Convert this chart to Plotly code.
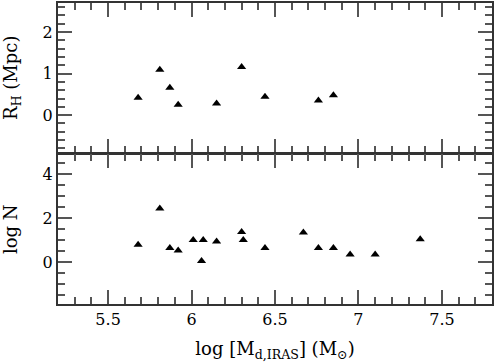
import plotly.graph_objects as go
from plotly.subplots import make_subplots

# top panel: R_H vs log M_d
logm_top = [5.68, 5.81, 5.87, 5.92, 6.15, 6.30, 6.44, 6.76, 6.85]
r_h = [0.42, 1.09, 0.66, 0.25, 0.28, 1.16, 0.44, 0.35, 0.48]

# bottom panel: log N vs log M_d
logm_bot = [5.68, 5.81, 5.87, 5.92, 6.01, 6.06, 6.07, 6.15, 6.30, 6.31,
            6.44, 6.67, 6.76, 6.85, 6.95, 7.10, 7.37]
log_n = [0.80, 2.44, 0.65, 0.53, 1.01, 0.05, 1.01, 0.94, 1.37, 1.01,
         0.65, 1.35, 0.65, 0.65, 0.35, 0.35, 1.05]

FONT = "DejaVu Serif"
AX = "#333333"
TK = "#555555"

fig = make_subplots(rows=2, cols=1, shared_xaxes=True, vertical_spacing=0)

marker = dict(symbol="triangle-up", size=8, color="black")
fig.add_trace(go.Scatter(x=logm_top, y=r_h, mode="markers", marker=marker), row=1, col=1)
fig.add_trace(go.Scatter(x=logm_bot, y=log_n, mode="markers", marker=marker), row=2, col=1)

common = dict(
    showline=True, linecolor=AX, linewidth=2, mirror="allticks",
    ticks="inside", ticklen=14, tickwidth=1.5, tickcolor=TK,
    showgrid=False, zeroline=False,
    tickfont=dict(family=FONT, size=16, color="black"),
)

xcommon = dict(common, range=[5.2, 7.8], dtick=0.5, tick0=5.5,
               minor=dict(ticks="inside", ticklen=7, dtick=0.1, tickcolor=TK, tickwidth=1.5))
fig.update_xaxes(**xcommon, showticklabels=False, row=1, col=1)
fig.update_xaxes(**xcommon, row=2, col=1,
                 title=dict(text="log [M<sub>d,IRAS</sub>] (M<sub>⊙</sub>)",
                            font=dict(family=FONT, size=18, color="black"), standoff=14))

# tiny gap so the two shared frame lines fall on top of each other
gap = 1 / 303
fig.update_yaxes(**common, row=1, col=1, range=[-0.9, 2.7], dtick=1, tick0=0,
                 domain=[0.5 + gap, 1],
                 minor=dict(ticks="inside", ticklen=7, dtick=0.2, tickcolor=TK, tickwidth=1.5),
                 title=dict(text="R<sub>H</sub> (Mpc)", font=dict(family=FONT, size=18, color="black"),
                            standoff=21))
fig.update_yaxes(**common, row=2, col=1, range=[-1.9, 4.9], dtick=2, tick0=0,
                 domain=[0, 0.5 - gap],
                 minor=dict(ticks="inside", ticklen=7, dtick=0.5, tickcolor=TK, tickwidth=1.5),
                 title=dict(text="log N", font=dict(family=FONT, size=18, color="black"),
                            standoff=21))

fig.update_layout(
    width=495, height=364,
    margin=dict(l=58, r=1, t=1, b=60),
    plot_bgcolor="white", paper_bgcolor="white",
    showlegend=False,
    font=dict(family=FONT, color="black"),
)

fig.write_html("out.html", config={"displayModeBar": False},
               post_script="document.body.style.margin='0';")
